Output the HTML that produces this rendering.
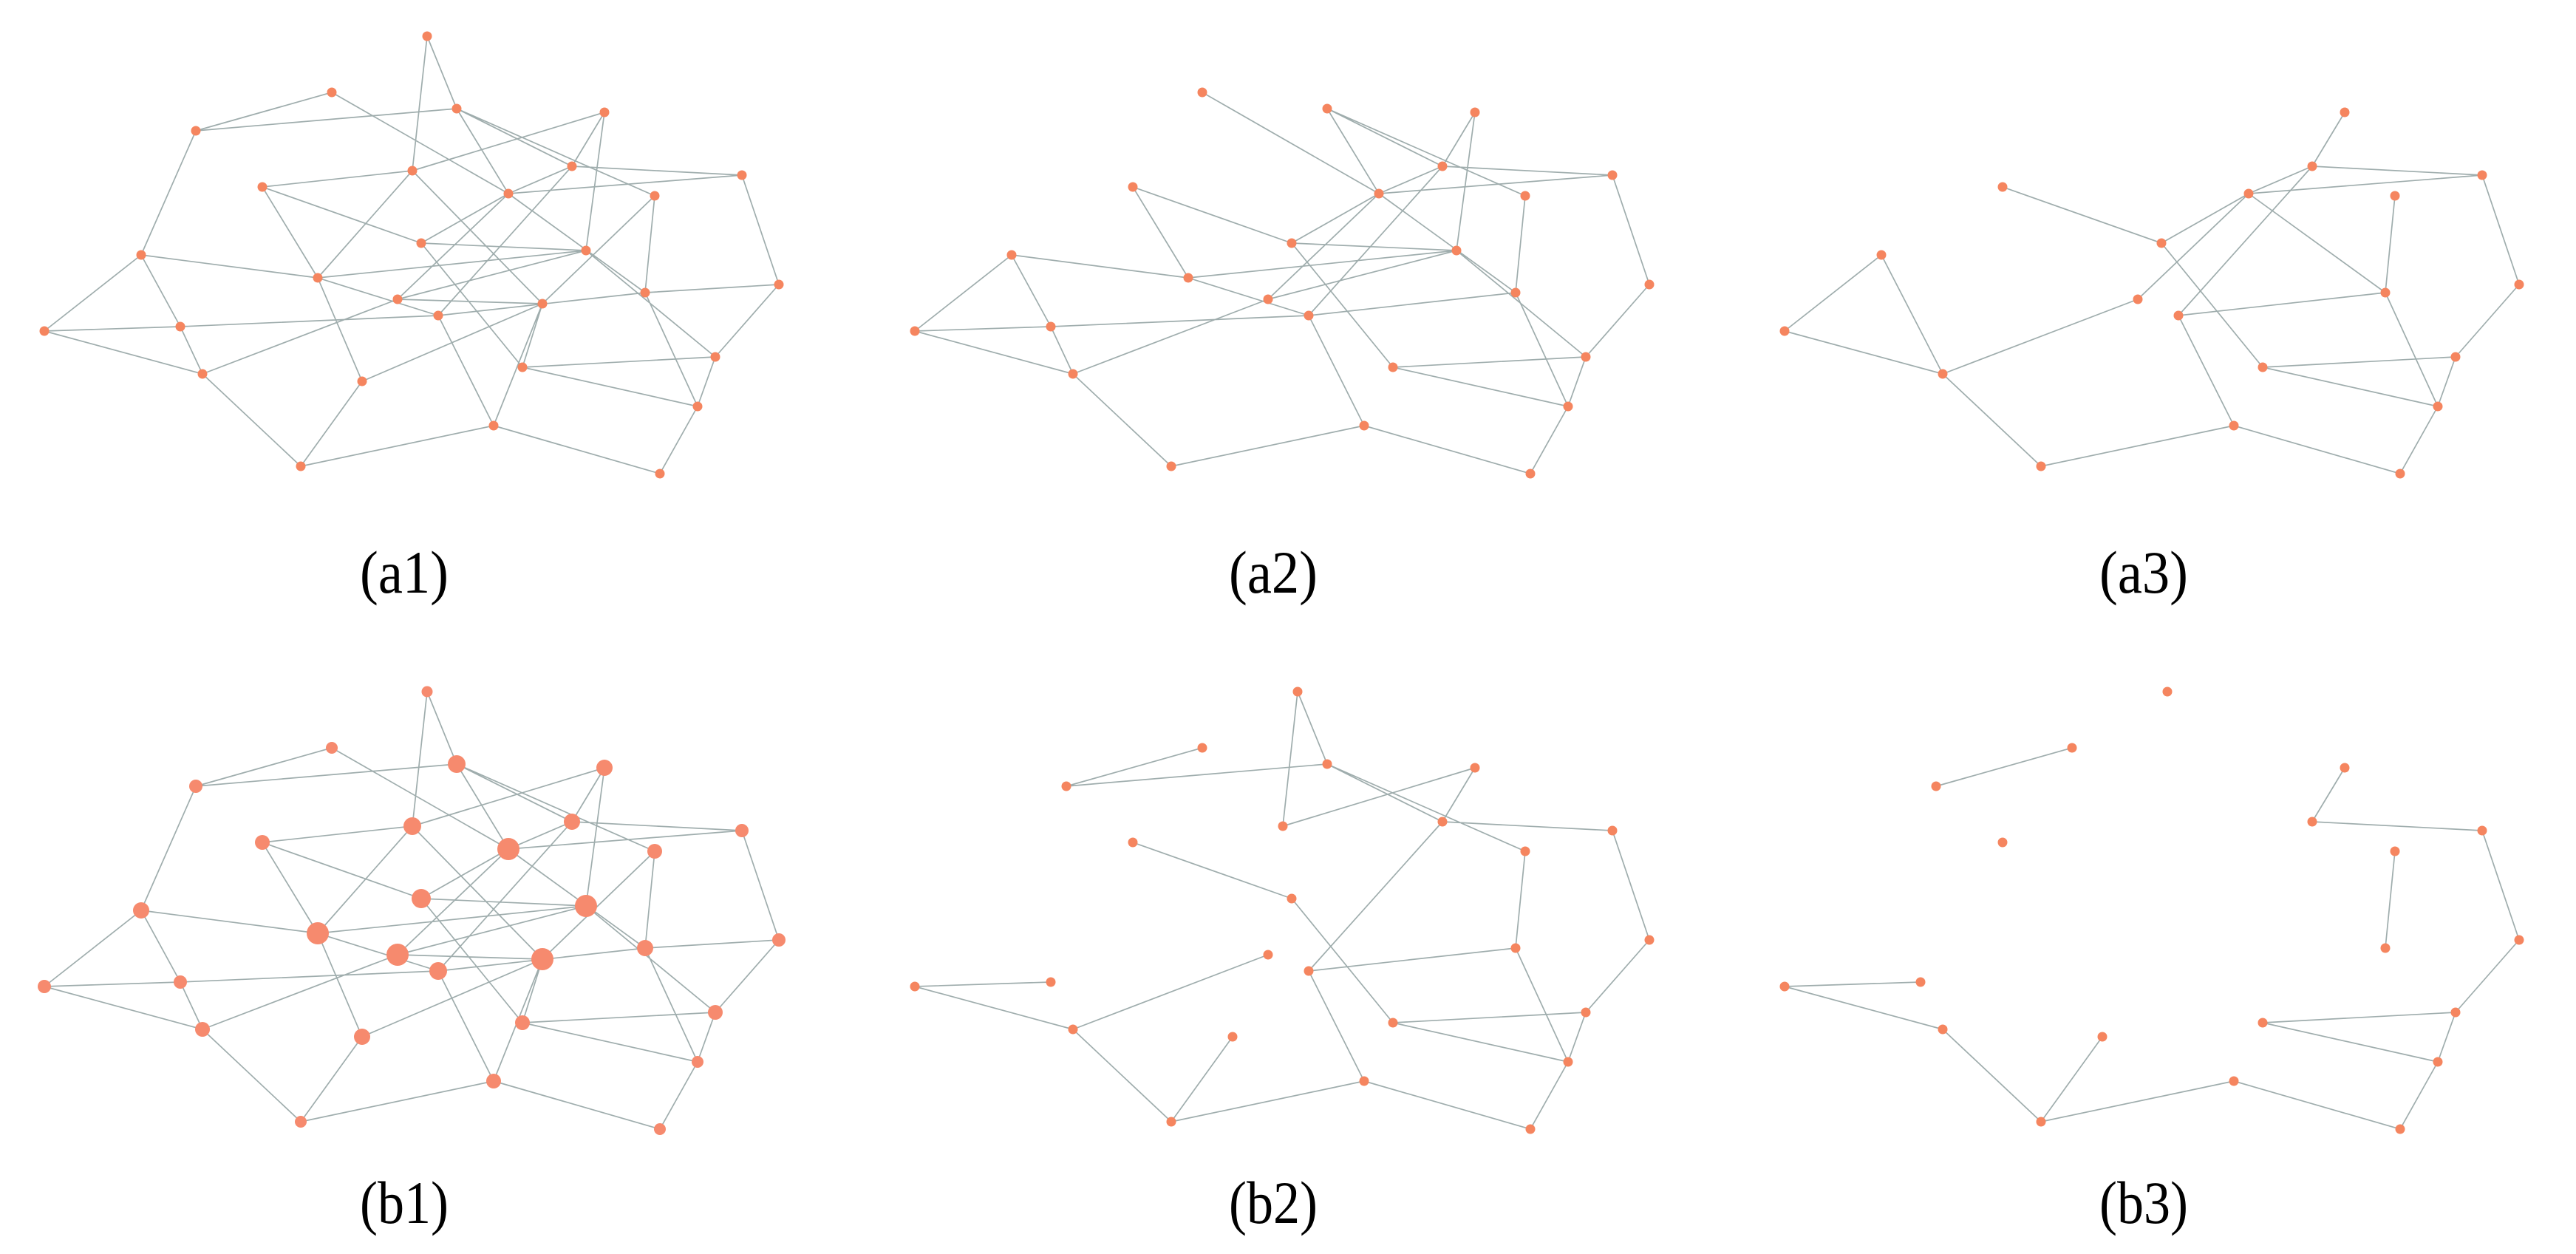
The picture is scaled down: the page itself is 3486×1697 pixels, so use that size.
<!DOCTYPE html>
<html><head><meta charset="utf-8"><style>
html,body{margin:0;padding:0;background:#fff;}
svg{display:block}
.e{stroke:#9fadad;stroke-width:1.7;fill:none}
.n circle{fill:#f5855f}
.b circle{fill:#f68a6e}
text{font-family:"Liberation Serif",serif;font-size:82px;fill:#000}
</style></head><body>
<svg width="3486" height="1697" viewBox="0 0 3486 1697" xmlns="http://www.w3.org/2000/svg">
<!-- a1 -->
<g>
<path class="e" d="M578 49L618 147M578 49L558 231M449 125L265 177M449 125L688 262M618 147L265 177M618 147L774 225M618 147L886 265M618 147L688 262M818 152L558 231M818 152L774 225M818 152L793 339M265 177L191 345M558 231L355 253M558 231L430 376M558 231L734 411M774 225L1004 237M774 225L593 427M774 225L688 262M1004 237L688 262M1004 237L1054 385M355 253L570 329M355 253L430 376M688 262L570 329M688 262L873 396M688 262L538 405M886 265L873 396M886 265L734 411M570 329L793 339M570 329L707 497M793 339L430 376M793 339L538 405M793 339L968 483M191 345L430 376M191 345L60 448M191 345L244 442M430 376L593 427M430 376L490 516M1054 385L968 483M1054 385L873 396M873 396L593 427M873 396L944 550M538 405L734 411M538 405L274 506M734 411L490 516M734 411L668 576M734 411L707 497M593 427L244 442M593 427L668 576M60 448L244 442M60 448L274 506M244 442L274 506M274 506L407 631M490 516L407 631M707 497L968 483M707 497L944 550M968 483L944 550M944 550L893 641M668 576L407 631M668 576L893 641"/>
<g class="n">
<circle cx="578" cy="49" r="6.5"/><circle cx="449" cy="125" r="6.5"/><circle cx="618" cy="147" r="6.5"/><circle cx="818" cy="152" r="6.5"/><circle cx="265" cy="177" r="6.5"/><circle cx="558" cy="231" r="6.5"/><circle cx="774" cy="225" r="6.5"/><circle cx="1004" cy="237" r="6.5"/><circle cx="355" cy="253" r="6.5"/><circle cx="688" cy="262" r="6.5"/><circle cx="886" cy="265" r="6.5"/><circle cx="570" cy="329" r="6.5"/><circle cx="793" cy="339" r="6.5"/><circle cx="191" cy="345" r="6.5"/><circle cx="430" cy="376" r="6.5"/><circle cx="1054" cy="385" r="6.5"/><circle cx="873" cy="396" r="6.5"/><circle cx="538" cy="405" r="6.5"/><circle cx="734" cy="411" r="6.5"/><circle cx="593" cy="427" r="6.5"/><circle cx="60" cy="448" r="6.5"/><circle cx="244" cy="442" r="6.5"/><circle cx="274" cy="506" r="6.5"/><circle cx="490" cy="516" r="6.5"/><circle cx="707" cy="497" r="6.5"/><circle cx="968" cy="483" r="6.5"/><circle cx="944" cy="550" r="6.5"/><circle cx="668" cy="576" r="6.5"/><circle cx="407" cy="631" r="6.5"/><circle cx="893" cy="641" r="6.5"/>
</g>
</g>
<!-- a2 -->
<g transform="translate(1178,0)">
<path class="e" d="M449 125L688 262M618 147L774 225M618 147L886 265M618 147L688 262M818 152L774 225M818 152L793 339M774 225L1004 237M774 225L688 262M774 225L593 427M1004 237L688 262M1004 237L1054 385M355 253L570 329M355 253L430 376M688 262L570 329M688 262L873 396M688 262L538 405M886 265L873 396M570 329L793 339M570 329L707 497M793 339L430 376M793 339L538 405M793 339L968 483M191 345L430 376M191 345L60 448M191 345L244 442M430 376L593 427M1054 385L968 483M873 396L593 427M873 396L944 550M538 405L274 506M593 427L244 442M593 427L668 576M60 448L244 442M60 448L274 506M244 442L274 506M274 506L407 631M707 497L968 483M707 497L944 550M968 483L944 550M944 550L893 641M668 576L407 631M668 576L893 641"/>
<g class="n">
<circle cx="449" cy="125" r="6.5"/><circle cx="618" cy="147" r="6.5"/><circle cx="818" cy="152" r="6.5"/><circle cx="774" cy="225" r="6.5"/><circle cx="1004" cy="237" r="6.5"/><circle cx="355" cy="253" r="6.5"/><circle cx="688" cy="262" r="6.5"/><circle cx="886" cy="265" r="6.5"/><circle cx="570" cy="329" r="6.5"/><circle cx="793" cy="339" r="6.5"/><circle cx="191" cy="345" r="6.5"/><circle cx="430" cy="376" r="6.5"/><circle cx="1054" cy="385" r="6.5"/><circle cx="873" cy="396" r="6.5"/><circle cx="538" cy="405" r="6.5"/><circle cx="593" cy="427" r="6.5"/><circle cx="60" cy="448" r="6.5"/><circle cx="244" cy="442" r="6.5"/><circle cx="274" cy="506" r="6.5"/><circle cx="707" cy="497" r="6.5"/><circle cx="968" cy="483" r="6.5"/><circle cx="944" cy="550" r="6.5"/><circle cx="668" cy="576" r="6.5"/><circle cx="407" cy="631" r="6.5"/><circle cx="893" cy="641" r="6.5"/>
</g>
</g>
<!-- a3 -->
<g transform="translate(2355,0)">
<path class="e" d="M818 152L774 225M774 225L1004 237M774 225L688 262M774 225L593 427M1004 237L688 262M1004 237L1054 385M355 253L570 329M688 262L570 329M688 262L873 396M688 262L538 405M886 265L873 396M570 329L707 497M191 345L60 448M191 345L274 506M1054 385L968 483M873 396L593 427M873 396L944 550M538 405L274 506M593 427L668 576M60 448L274 506M274 506L407 631M707 497L968 483M707 497L944 550M968 483L944 550M944 550L893 641M668 576L407 631M668 576L893 641"/>
<g class="n">
<circle cx="818" cy="152" r="6.5"/><circle cx="774" cy="225" r="6.5"/><circle cx="1004" cy="237" r="6.5"/><circle cx="355" cy="253" r="6.5"/><circle cx="688" cy="262" r="6.5"/><circle cx="886" cy="265" r="6.5"/><circle cx="570" cy="329" r="6.5"/><circle cx="191" cy="345" r="6.5"/><circle cx="1054" cy="385" r="6.5"/><circle cx="873" cy="396" r="6.5"/><circle cx="538" cy="405" r="6.5"/><circle cx="593" cy="427" r="6.5"/><circle cx="60" cy="448" r="6.5"/><circle cx="274" cy="506" r="6.5"/><circle cx="707" cy="497" r="6.5"/><circle cx="968" cy="483" r="6.5"/><circle cx="944" cy="550" r="6.5"/><circle cx="668" cy="576" r="6.5"/><circle cx="407" cy="631" r="6.5"/><circle cx="893" cy="641" r="6.5"/>
</g>
</g>
<!-- b1 -->
<g transform="translate(0,887)">
<path class="e" d="M578 49L618 147M578 49L558 231M449 125L265 177M449 125L688 262M618 147L265 177M618 147L774 225M618 147L886 265M618 147L688 262M818 152L558 231M818 152L774 225M818 152L793 339M265 177L191 345M558 231L355 253M558 231L430 376M558 231L734 411M774 225L1004 237M774 225L593 427M774 225L688 262M1004 237L688 262M1004 237L1054 385M355 253L570 329M355 253L430 376M688 262L570 329M688 262L873 396M688 262L538 405M886 265L873 396M886 265L734 411M570 329L793 339M570 329L707 497M793 339L430 376M793 339L538 405M793 339L968 483M191 345L430 376M191 345L60 448M191 345L244 442M430 376L593 427M430 376L490 516M1054 385L968 483M1054 385L873 396M873 396L593 427M873 396L944 550M538 405L734 411M538 405L274 506M734 411L490 516M734 411L668 576M734 411L707 497M593 427L244 442M593 427L668 576M60 448L244 442M60 448L274 506M244 442L274 506M274 506L407 631M490 516L407 631M707 497L968 483M707 497L944 550M968 483L944 550M944 550L893 641M668 576L407 631M668 576L893 641"/>
<g class="b">
<circle cx="578" cy="49" r="7.5"/><circle cx="449" cy="125" r="8"/><circle cx="618" cy="147" r="12"/><circle cx="818" cy="152" r="11"/><circle cx="265" cy="177" r="9"/><circle cx="558" cy="231" r="12"/><circle cx="774" cy="225" r="11"/><circle cx="1004" cy="237" r="9"/><circle cx="355" cy="253" r="10"/><circle cx="688" cy="262" r="15"/><circle cx="886" cy="265" r="10"/><circle cx="570" cy="329" r="13"/><circle cx="793" cy="339" r="15"/><circle cx="191" cy="345" r="11"/><circle cx="430" cy="376" r="15"/><circle cx="1054" cy="385" r="9"/><circle cx="873" cy="396" r="11"/><circle cx="538" cy="405" r="15"/><circle cx="734" cy="411" r="15"/><circle cx="593" cy="427" r="12"/><circle cx="60" cy="448" r="9"/><circle cx="244" cy="442" r="9"/><circle cx="274" cy="506" r="10"/><circle cx="490" cy="516" r="11"/><circle cx="707" cy="497" r="10"/><circle cx="968" cy="483" r="10"/><circle cx="944" cy="550" r="8"/><circle cx="668" cy="576" r="10"/><circle cx="407" cy="631" r="8"/><circle cx="893" cy="641" r="8"/>
</g>
</g>
<!-- b2 -->
<g transform="translate(1178,887)">
<path class="e" d="M578 49L618 147M578 49L558 231M449 125L265 177M618 147L265 177M618 147L774 225M618 147L886 265M818 152L558 231M818 152L774 225M774 225L1004 237M774 225L593 427M1004 237L1054 385M355 253L570 329M886 265L873 396M570 329L707 497M1054 385L968 483M873 396L593 427M873 396L944 550M538 405L274 506M593 427L668 576M60 448L244 442M60 448L274 506M274 506L407 631M490 516L407 631M707 497L968 483M707 497L944 550M968 483L944 550M944 550L893 641M668 576L407 631M668 576L893 641"/>
<g class="n">
<circle cx="578" cy="49" r="6.5"/><circle cx="449" cy="125" r="6.5"/><circle cx="618" cy="147" r="6.5"/><circle cx="818" cy="152" r="6.5"/><circle cx="265" cy="177" r="6.5"/><circle cx="558" cy="231" r="6.5"/><circle cx="774" cy="225" r="6.5"/><circle cx="1004" cy="237" r="6.5"/><circle cx="355" cy="253" r="6.5"/><circle cx="886" cy="265" r="6.5"/><circle cx="570" cy="329" r="6.5"/><circle cx="1054" cy="385" r="6.5"/><circle cx="873" cy="396" r="6.5"/><circle cx="538" cy="405" r="6.5"/><circle cx="593" cy="427" r="6.5"/><circle cx="60" cy="448" r="6.5"/><circle cx="244" cy="442" r="6.5"/><circle cx="274" cy="506" r="6.5"/><circle cx="490" cy="516" r="6.5"/><circle cx="707" cy="497" r="6.5"/><circle cx="968" cy="483" r="6.5"/><circle cx="944" cy="550" r="6.5"/><circle cx="668" cy="576" r="6.5"/><circle cx="407" cy="631" r="6.5"/><circle cx="893" cy="641" r="6.5"/>
</g>
</g>
<!-- b3 -->
<g transform="translate(2355,887)">
<path class="e" d="M449 125L265 177M818 152L774 225M774 225L1004 237M1004 237L1054 385M1054 385L968 483M886 265L873 396M60 448L244 442M60 448L274 506M274 506L407 631M490 516L407 631M668 576L407 631M668 576L893 641M707 497L968 483M707 497L944 550M968 483L944 550M944 550L893 641"/>
<g class="n">
<circle cx="578" cy="49" r="6.5"/><circle cx="449" cy="125" r="6.5"/><circle cx="818" cy="152" r="6.5"/><circle cx="265" cy="177" r="6.5"/><circle cx="774" cy="225" r="6.5"/><circle cx="1004" cy="237" r="6.5"/><circle cx="355" cy="253" r="6.5"/><circle cx="886" cy="265" r="6.5"/><circle cx="1054" cy="385" r="6.5"/><circle cx="873" cy="396" r="6.5"/><circle cx="60" cy="448" r="6.5"/><circle cx="244" cy="442" r="6.5"/><circle cx="274" cy="506" r="6.5"/><circle cx="490" cy="516" r="6.5"/><circle cx="707" cy="497" r="6.5"/><circle cx="968" cy="483" r="6.5"/><circle cx="944" cy="550" r="6.5"/><circle cx="668" cy="576" r="6.5"/><circle cx="407" cy="631" r="6.5"/><circle cx="893" cy="641" r="6.5"/>
</g>
</g>
<!-- labels -->
<text x="547" y="802" text-anchor="middle" textLength="120" lengthAdjust="spacingAndGlyphs">(a1)</text>
<text x="1723" y="802" text-anchor="middle" textLength="120" lengthAdjust="spacingAndGlyphs">(a2)</text>
<text x="2901" y="802" text-anchor="middle" textLength="120" lengthAdjust="spacingAndGlyphs">(a3)</text>
<text x="547" y="1655" text-anchor="middle" textLength="120" lengthAdjust="spacingAndGlyphs">(b1)</text>
<text x="1723" y="1655" text-anchor="middle" textLength="120" lengthAdjust="spacingAndGlyphs">(b2)</text>
<text x="2901" y="1655" text-anchor="middle" textLength="120" lengthAdjust="spacingAndGlyphs">(b3)</text>
</svg>
</body></html>
